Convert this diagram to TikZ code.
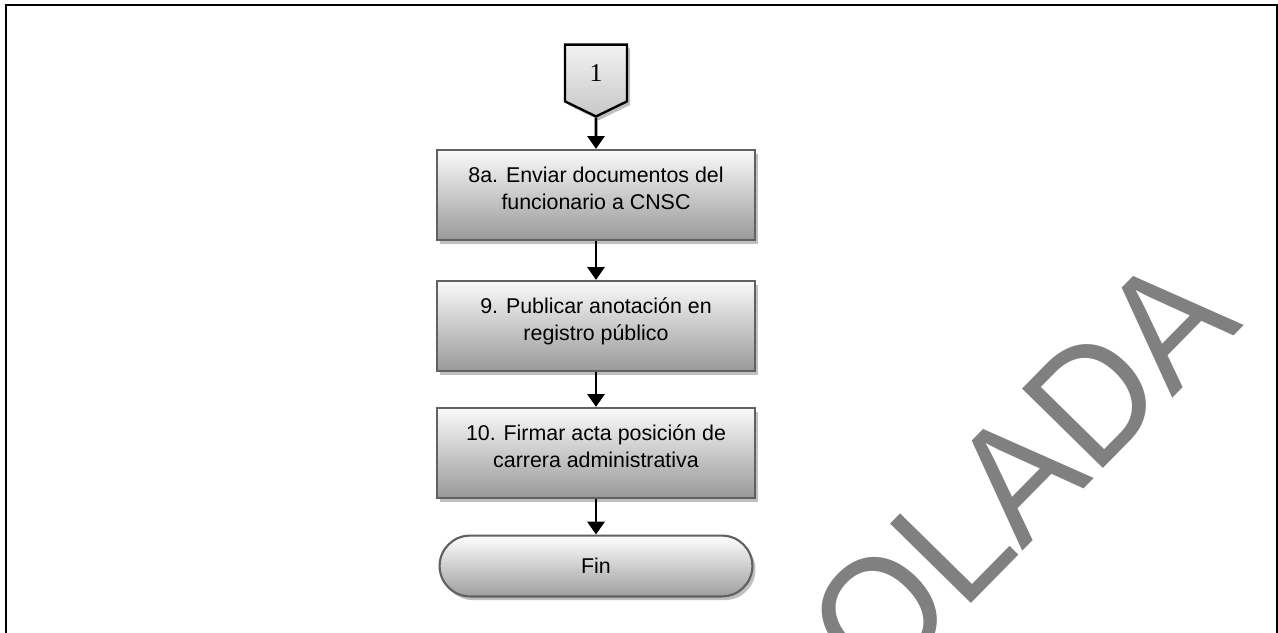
\documentclass[tikz,border=0pt]{standalone}
\usepackage{fontspec}
\setmainfont{Liberation Sans}
\newfontfamily\serifuno{Liberation Serif}
\usetikzlibrary{positioning,arrows.meta,shapes.symbols,shadows}

\tikzset{
  sombra/.style={drop shadow={shadow xshift=0.05cm,shadow yshift=-0.06cm,fill=black!25,opacity=1}},
  paso/.style={rectangle,draw=black!62,line width=1pt,top color=black!2,bottom color=black!40,
    minimum width=5.22cm,minimum height=1.48cm,align=center,text depth=6.5pt,
    font=\fontsize{10}{12.4}\selectfont,sombra},
  fin/.style={rectangle,rounded corners=0.5cm,draw=black!62,line width=1pt,top color=white,
    bottom color=black!38,minimum width=5.14cm,minimum height=1cm,font=\fontsize{10}{12}\selectfont,sombra},
  conector/.style={signal,signal to=south,signal pointer angle=128,draw=black,line width=1.1pt,
    top color=black!5,bottom color=black!22,minimum width=1.02cm,minimum height=1.04cm,
    font=\serifuno\fontsize{12}{14}\selectfont,sombra},
  flecha/.style={-{Triangle[length=6pt,width=8pt]},line width=1.2pt},
}

\begin{document}
\begin{tikzpicture}[x=0.01643cm,y=-0.01643cm]
  \useasboundingbox (0,0) rectangle (1278,633);
  \clip (0,0) rectangle (1278,633);
  % marca de agua
  \node[rotate=45.5,yscale=1.07,anchor=base east,inner sep=0pt,text=black!50,
    font=\fontsize{72}{72}\selectfont] (marca) at (1245,325) {CONTROLADA};
  % marco
  \draw[line width=1.1pt] (6,650) -- (6,5) -- (1277,5) -- (1277,650);
  % pasos
  \node[conector] (uno) at (596,73) {1};
  \node[paso] (b8a) at (596,195) {8a. Enviar documentos del\\funcionario a CNSC};
  \node[paso] (b9) at (596,326) {9. Publicar anotación en\\registro público};
  \node[paso] (b10) at (596,453) {10. Firmar acta posición de\\carrera administrativa};
  \node[fin] (bfin) at (596,566) {Fin};
  \draw[flecha] (uno) -- (b8a);
  \draw[flecha] (b8a) -- (b9);
  \draw[flecha] (b9) -- (b10);
  \draw[flecha] (b10) -- (bfin);
\end{tikzpicture}
\end{document}
